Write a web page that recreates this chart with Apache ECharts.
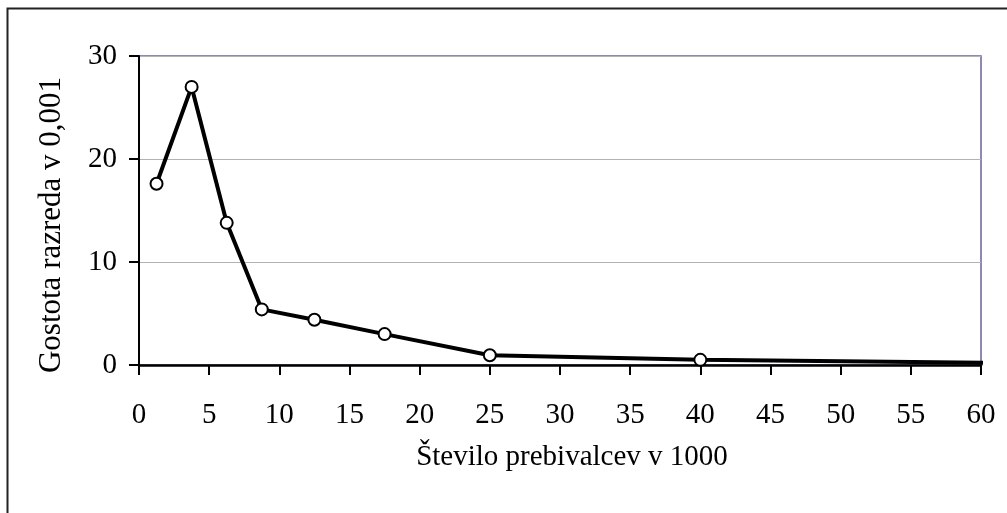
<!DOCTYPE html>
<html>
<head>
<meta charset="utf-8">
<script src="https://cdn.jsdelivr.net/npm/echarts@6/dist/echarts.min.js"></script>
<style>
html,body{margin:0;padding:0;background:#fff;}
#c{width:1007px;height:513px;}
</style>
</head>
<body>
<div id="c"></div>
<script>
// Class midpoints (thousands of inhabitants) and densities (per 0.001)
const xValues = [1.25, 3.75, 6.25, 8.75, 12.5, 17.5, 25, 40, 75];
const yValues = [17.6, 27.0, 13.8, 5.4, 4.4, 3.0, 0.95, 0.5, 0.03];
const xTicks = [0, 5, 10, 15, 20, 25, 30, 35, 40, 45, 50, 55, 60];
const yTicks = [0, 10, 20, 30];
const xTitle = 'Število prebivalcev v 1000';
const yTitle = 'Gostota razreda v 0,001';

const font = '"Liberation Serif", "Times New Roman", serif';
const chart = echarts.init(document.getElementById('c'), null, {renderer: 'canvas'});
chart.setOption({
  animation: false,
  backgroundColor: '#fff',
  grid: {left: 139, top: 56, right: 26, bottom: 148, show: true, borderColor: '#666699', borderWidth: 1.5, backgroundColor: 'transparent'},
  xAxis: {
    type: 'value', min: xTicks[0], max: xTicks[xTicks.length - 1], interval: 5,
    axisLine: {show: true, onZero: false, lineStyle: {color: '#000', width: 2.5}},
    axisTick: {show: true, inside: false, length: 10, lineStyle: {color: '#000', width: 2}},
    axisLabel: {color: '#000', fontFamily: font, fontSize: 29, margin: 36},
    splitLine: {show: false}
  },
  yAxis: {
    type: 'value', min: yTicks[0], max: yTicks[yTicks.length - 1], interval: 10,
    axisLine: {show: true, onZero: false, lineStyle: {color: '#000', width: 2}},
    axisTick: {show: true, inside: false, length: 10, lineStyle: {color: '#000', width: 2}},
    axisLabel: {color: '#000', fontFamily: font, fontSize: 29, margin: 22},
    splitLine: {show: true, lineStyle: {color: '#b3b3b3', width: 1}}
  },
  graphic: [
    {type: 'rect', shape: {x: 7.5, y: 8.5, width: 1100, height: 600}, style: {fill: 'none', stroke: '#222', lineWidth: 2}, z: -1},
    {type: 'text', x: 572, y: 457, style: {text: xTitle, font: '29px ' + font, fill: '#000', textAlign: 'center', textVerticalAlign: 'middle'}},
    {type: 'text', x: 52, y: 225, rotation: Math.PI / 2, style: {text: yTitle, font: '31px ' + font, fill: '#000', textAlign: 'center', textVerticalAlign: 'middle'}}
  ],
  series: [{
    type: 'line',
    data: xValues.map((x, i) => [x, yValues[i]]),
    clip: true,
    symbol: 'circle', symbolSize: 12,
    showAllSymbol: true,
    lineStyle: {color: '#000', width: 4},
    itemStyle: {color: '#fff', borderColor: '#000', borderWidth: 2},
    z: 5
  }]
});
</script>
</body>
</html>
